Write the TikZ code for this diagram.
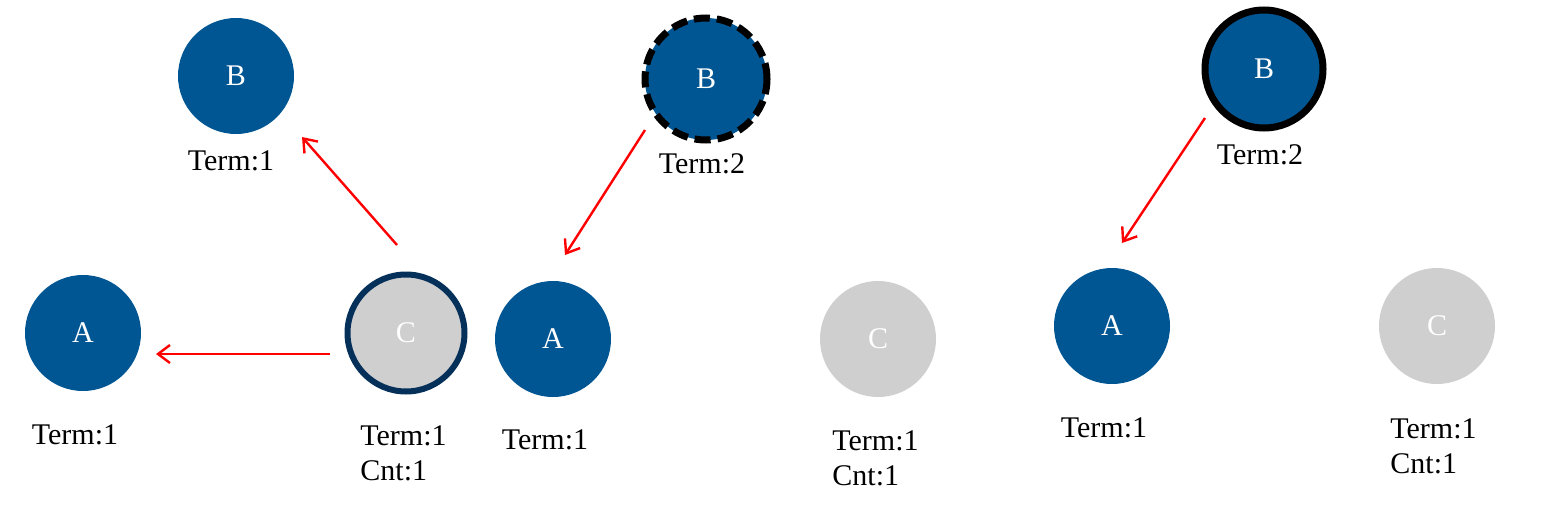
\documentclass[tikz,border=0pt]{standalone}
\usepackage{fontspec}
\setmainfont{Liberation Serif}
\usetikzlibrary{arrows.meta,calc}
\definecolor{nodeblue}{RGB}{0,86,147}
\definecolor{nodegray}{RGB}{208,207,208}
\definecolor{navyring}{RGB}{5,48,89}

\begin{document}
\begin{tikzpicture}[x=0.5pt, y=-0.5pt, >={Straight Barb[length=6pt,width=9pt]},
  vtx/.style={circle, minimum size=58pt, inner sep=0pt, text=white, font=\fontsize{15}{17}\selectfont},
  bluevtx/.style={vtx, fill=nodeblue},
  grayvtx/.style={vtx, fill=nodegray},
  info/.style={inner sep=0pt, align=left, font=\fontsize{15}{17.5}\selectfont},
  redarrow/.style={->, red, line width=1.2pt}]
  \useasboundingbox (0,0) rectangle (1544,514);
  % Step 1
  \node[bluevtx] (B1) at (236,76) {B};
  \node[bluevtx] (A1) at (83,333) {A};
  \node[grayvtx, minimum size=58.5pt, draw=navyring, line width=3pt] (C1) at (406,333) {C};
  \node[info] (tB1) at (231,161) {Term:1};
  \node[info] (tA1) at (75,435) {Term:1};
  \node[info, anchor=west] (tC1) at (360,453) {Term:1\\Cnt:1};
  \draw[redarrow] ($(C1)+(-9,-88)$) -- ($(B1)+(66,61)$);
  \draw[redarrow] ($(C1)+(-76,21)$) -- ($(A1)+(73,21)$);
  % Step 2
  \node[bluevtx, minimum size=61pt, draw=black, line width=3.5pt,
    dash pattern=on 8pt off 3.5pt] (B2) at (706,79) {B};
  \node[bluevtx] (A2) at (553,339) {A};
  \node[grayvtx] (C2) at (878,339) {C};
  \node[info] (tB2) at (702,164) {Term:2};
  \node[info] (tA2) at (545,440) {Term:1};
  \node[info, anchor=west] (tC2) at (832,458) {Term:1\\Cnt:1};
  \draw[redarrow] ($(B2)+(-61,51)$) -- ($(A2)+(12,-84)$);
  % Step 3
  \node[bluevtx, minimum size=59pt, draw=black, line width=3.5pt] (B3) at (1264,69) {B};
  \node[bluevtx] (A3) at (1112,326) {A};
  \node[grayvtx] (C3) at (1437,326) {C};
  \node[info] (tB3) at (1260,155) {Term:2};
  \node[info] (tA3) at (1104,428) {Term:1};
  \node[info, anchor=west] (tC3) at (1390,446) {Term:1\\Cnt:1};
  \draw[redarrow] ($(B3)+(-59,49)$) -- ($(A3)+(10,-83)$);
\end{tikzpicture}
\end{document}
